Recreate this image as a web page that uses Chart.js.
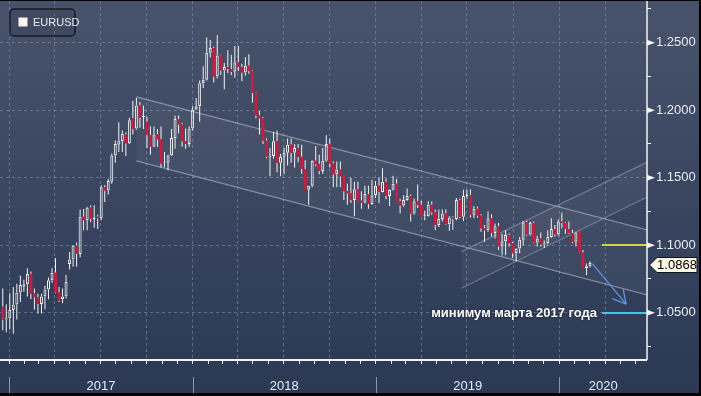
<!DOCTYPE html>
<html>
<head>
<meta charset="utf-8">
<script src="https://cdn.jsdelivr.net/npm/chart.js@4.4.1/dist/chart.umd.min.js"></script>
<style>
  html, body { margin: 0; padding: 0; background: #000; }
  #wrap { position: absolute; left: 0; top: 1px; width: 699px; height: 392px; }
</style>
</head>
<body>
<div id="wrap"><canvas id="myChart" width="699" height="392"></canvas></div>
<script>
// weekly EURUSD candles, first bar = week of 12 Dec 2016
var firstWeek = "2016-12-12";
var opens = [
  1.0545,1.0450,1.0458,1.0520,1.0560,1.0650,1.0693,1.0710,1.0787,1.0643,
  1.0614,1.0565,1.0620,1.0672,1.0740,1.0796,1.0650,1.0600,1.0620,1.0860,
  1.0895,1.0998,1.0935,1.1210,1.1185,1.1280,1.1195,1.1210,1.1200,1.1430,
  1.1405,1.1470,1.1665,1.1745,1.1770,1.1820,1.1755,1.1940,1.1865,1.2035,
  1.1950,1.1915,1.1815,1.1730,1.1820,1.1785,1.1605,1.1610,1.1665,1.1795,
  1.1935,1.1895,1.1770,1.1750,1.1865,1.2005,1.2030,1.2200,1.2225,1.2425,
  1.2460,1.2250,1.2405,1.2295,1.2320,1.2305,1.2285,1.2355,1.2320,1.2280,
  1.2330,1.2290,1.2130,1.1960,1.1940,1.1775,1.1655,1.1660,1.1770,1.1610,
  1.1655,1.1685,1.1745,1.1685,1.1720,1.1655,1.1565,1.1410,1.1440,1.1625,
  1.1600,1.1550,1.1625,1.1750,1.1605,1.1525,1.1560,1.1510,1.1400,1.1385,
  1.1335,1.1415,1.1330,1.1315,1.1380,1.1305,1.1370,1.1440,1.1395,1.1470,
  1.1365,1.1410,1.1455,1.1325,1.1295,1.1335,1.1365,1.1235,1.1325,1.1300,
  1.1215,1.1215,1.1300,1.1245,1.1150,1.1195,1.1235,1.1155,1.1205,1.1195,
  1.1335,1.1210,1.1365,1.1370,1.1225,1.1270,1.1220,1.1125,1.1110,1.1200,
  1.1090,1.1140,1.0990,1.1030,1.1075,1.1015,1.0940,1.0975,1.1040,1.1170,
  1.1080,1.1165,1.1020,1.1050,1.1005,1.1015,1.1060,1.1120,1.1080,1.1175,
  1.1165,1.1120,1.1090,1.1025,1.1095,1.0945,1.0830,1.0845
];
var highs = [
  1.0680,1.0560,1.0645,1.0690,1.0715,1.0775,1.0745,1.0829,1.0805,1.0680,
  1.0640,1.0640,1.0700,1.0760,1.0830,1.0906,1.0690,1.0680,1.0780,1.0950,
  1.1000,1.1020,1.1265,1.1268,1.1285,1.1296,1.1296,1.1225,1.1445,1.1445,
  1.1490,1.1680,1.1775,1.1910,1.1850,1.1835,1.1945,1.2070,1.2092,1.2060,
  1.2035,1.1950,1.1880,1.1880,1.1860,1.1880,1.1690,1.1670,1.1860,1.1960,
  1.1960,1.1905,1.1865,1.1880,1.2030,1.2090,1.2220,1.2325,1.2538,1.2520,
  1.2470,1.2555,1.2410,1.2350,1.2445,1.2410,1.2475,1.2475,1.2345,1.2395,
  1.2415,1.2295,1.2135,1.1995,1.1950,1.1790,1.1720,1.1840,1.1850,1.1675,
  1.1720,1.1790,1.1790,1.1750,1.1750,1.1745,1.1630,1.1440,1.1630,1.1735,
  1.1670,1.1720,1.1815,1.1790,1.1620,1.1620,1.1620,1.1515,1.1455,1.1500,
  1.1470,1.1470,1.1400,1.1440,1.1440,1.1485,1.1475,1.1500,1.1570,1.1495,
  1.1415,1.1515,1.1490,1.1345,1.1370,1.1420,1.1375,1.1345,1.1450,1.1330,
  1.1255,1.1325,1.1325,1.1265,1.1265,1.1265,1.1265,1.1215,1.1215,1.1350,
  1.1345,1.1410,1.1410,1.1415,1.1290,1.1285,1.1230,1.1150,1.1250,1.1230,
  1.1160,1.1165,1.1085,1.1110,1.1085,1.1025,1.0980,1.1060,1.1180,1.1180,
  1.1175,1.1175,1.1070,1.1095,1.1035,1.1110,1.1200,1.1150,1.1190,1.1240,
  1.1170,1.1175,1.1115,1.1100,1.1100,1.0965,1.0865,1.0880
];
var lows = [
  1.0370,1.0355,1.0375,1.0345,1.0450,1.0580,1.0656,1.0620,1.0600,1.0521,
  1.0494,1.0495,1.0525,1.0600,1.0720,1.0645,1.0580,1.0570,1.0605,1.0820,
  1.0840,1.0840,1.0910,1.1110,1.1110,1.1170,1.1130,1.1120,1.1185,1.1320,
  1.1375,1.1455,1.1610,1.1690,1.1690,1.1660,1.1750,1.1820,1.1855,1.1870,
  1.1860,1.1720,1.1670,1.1730,1.1730,1.1575,1.1575,1.1555,1.1660,1.1715,
  1.1830,1.1730,1.1715,1.1730,1.1850,1.2000,1.1915,1.2165,1.2220,1.2390,
  1.2205,1.2235,1.2260,1.2155,1.2275,1.2260,1.2240,1.2290,1.2215,1.2255,
  1.2270,1.2055,1.1940,1.1820,1.1750,1.1645,1.1510,1.1640,1.1540,1.1510,
  1.1525,1.1590,1.1610,1.1575,1.1615,1.1530,1.1410,1.1300,1.1430,1.1585,
  1.1525,1.1530,1.1620,1.1575,1.1430,1.1430,1.1430,1.1335,1.1300,1.1315,
  1.1215,1.1325,1.1270,1.1310,1.1270,1.1300,1.1350,1.1310,1.1390,1.1340,
  1.1290,1.1405,1.1325,1.1235,1.1285,1.1330,1.1175,1.1225,1.1275,1.1215,
  1.1185,1.1210,1.1225,1.1110,1.1135,1.1175,1.1150,1.1105,1.1115,1.1185,
  1.1200,1.1180,1.1345,1.1205,1.1200,1.1205,1.1100,1.1025,1.1100,1.1065,
  1.1050,1.0965,1.0925,1.0925,1.0990,1.0905,1.0880,1.0940,1.1000,1.1070,
  1.1070,1.1015,1.0990,1.0990,1.0980,1.1005,1.1055,1.1065,1.1070,1.1125,
  1.1085,1.1085,1.1015,1.0990,1.0940,1.0830,1.0778,1.0835
];
var closes = [
  1.0450,1.0458,1.0520,1.0560,1.0650,1.0705,1.0710,1.0787,1.0643,1.0614,
  1.0565,1.0620,1.0672,1.0740,1.0796,1.0650,1.0590,1.0620,1.0730,1.0895,
  1.0998,1.0935,1.1210,1.1185,1.1280,1.1195,1.1200,1.1200,1.1430,1.1405,
  1.1475,1.1665,1.1750,1.1775,1.1825,1.1755,1.1925,1.1860,1.2035,1.1945,
  1.1955,1.1815,1.1730,1.1820,1.1785,1.1605,1.1610,1.1665,1.1795,1.1935,
  1.1895,1.1770,1.1750,1.1865,1.2005,1.2030,1.2200,1.2225,1.2425,1.2460,
  1.2250,1.2405,1.2295,1.2320,1.2305,1.2285,1.2355,1.2320,1.2280,1.2330,
  1.2290,1.2130,1.1960,1.1940,1.1775,1.1655,1.1660,1.1770,1.1610,1.1655,
  1.1685,1.1745,1.1685,1.1720,1.1655,1.1565,1.1410,1.1440,1.1625,1.1600,
  1.1550,1.1625,1.1750,1.1605,1.1525,1.1560,1.1510,1.1400,1.1385,1.1335,
  1.1415,1.1330,1.1315,1.1380,1.1305,1.1370,1.1440,1.1395,1.1470,1.1365,
  1.1410,1.1455,1.1325,1.1295,1.1335,1.1365,1.1235,1.1325,1.1300,1.1215,
  1.1218,1.1300,1.1245,1.1150,1.1195,1.1235,1.1155,1.1205,1.1195,1.1335,
  1.1210,1.1365,1.1370,1.1225,1.1270,1.1220,1.1125,1.1110,1.1200,1.1090,
  1.1140,1.0990,1.1030,1.1075,1.1015,1.0940,1.0975,1.1040,1.1170,1.1080,
  1.1165,1.1020,1.1050,1.1005,1.1015,1.1060,1.1120,1.1080,1.1175,1.1165,
  1.1120,1.1090,1.1025,1.1095,1.0945,1.0830,1.0845,1.0868
];

var seriesName = "EURUSD";
var priceTicks = [1.025, 1.05, 1.075, 1.10, 1.125, 1.15, 1.175, 1.20, 1.225, 1.25, 1.275];
var years = [2017, 2018, 2019, 2020];
var lastPrice = 1.0868;
var levelPrices = [1.1000, 1.0500];
var levelColors = ["#d8d43e", "#3fc6e2"];
var levelFrom = "2020-03-26";
var noteText = "минимум марта 2017 года";
// [date, upper line, lower line]
var downChannel = [["2017-09-11", 1.2098, 1.1624], ["2020-06-24", 1.1113, 1.0631]];
var upChannel = [["2019-06-20", 1.0952, 1.0681], ["2020-06-24", 1.1616, 1.1357]];
var arrowPath = [["2020-03-07", 1.0862], ["2020-05-13", 1.0564]];

var grafico = (function () {
  "use strict";
  var DAY = 86400000;
  var ORIGIN = Date.UTC(2017, 0, 1);
  var X_MIN = -18.5, X_MAX = 1269.5;
  var Y_MIN = 1.014963, Y_MAX = 1.280889;
  var WHITE = "#f3f3f3", RED = "#c41e40";
  var GRID = "rgba(125,150,185,0.55)";

  function dayOf(s) {
    var p = s.split("-");
    return (Date.UTC(+p[0], +p[1] - 1, +p[2]) - ORIGIN) / DAY;
  }
  function isMajor(v) { return Math.round(v * 1000) % 50 === 0; }

  var monthTicks = [];
  for (var yr = 2016; yr <= 2020; yr++) {
    for (var m = 0; m < 12; m++) {
      var d = (Date.UTC(yr, m, 1) - ORIGIN) / DAY;
      if (d >= X_MIN && d <= X_MAX) monthTicks.push({ value: d, quarter: m % 3 === 0 });
    }
  }

  var bodies = [], wickHigh = [], wickLow = [], bodyFill = [], bodyLine = [], bodyBorder = [];
  var w0 = dayOf(firstWeek);
  for (var i = 0; i < opens.length; i++) {
    var x = w0 + 7 * (i + 1);
    var top = Math.max(opens[i], closes[i]), bot = Math.min(opens[i], closes[i]);
    var up = closes[i] >= opens[i];
    bodies.push({ x: x, y: [opens[i], closes[i]] });
    wickHigh.push({ x: x, y: [top, highs[i]] });
    wickLow.push({ x: x, y: [lows[i], bot] });
    bodyFill.push(up ? "rgba(0,0,0,0)" : RED);
    bodyLine.push(up ? WHITE : RED);
    bodyBorder.push(up ? 1 : 0);
  }

  function line(c, x0, y0, x1, y1) {
    c.beginPath(); c.moveTo(x0, y0); c.lineTo(x1, y1); c.stroke();
  }

  var decor = {
    id: "decor",
    beforeDraw: function (chart) {
      var c = chart.ctx;
      var g = c.createLinearGradient(0, 0, 0, chart.height);
      g.addColorStop(0, "#48536b");
      g.addColorStop(0.9, "#2e3b57");
      g.addColorStop(1, "#2c3955");
      c.save();
      c.fillStyle = g;
      c.fillRect(0, 0, chart.width, chart.height);
      c.restore();
    },
    beforeDatasetsDraw: function (chart) {
      var c = chart.ctx, a = chart.chartArea, xs = chart.scales.x, ys = chart.scales.y;
      c.save();
      c.beginPath(); c.rect(a.left, a.top, a.right - a.left, a.bottom - a.top); c.clip();
      [downChannel, upChannel].forEach(function (ch, k) {
        var x0 = xs.getPixelForValue(dayOf(ch[0][0])), x1 = xs.getPixelForValue(dayOf(ch[1][0]));
        var u0 = ys.getPixelForValue(ch[0][1]), l0 = ys.getPixelForValue(ch[0][2]);
        var u1 = ys.getPixelForValue(ch[1][1]), l1 = ys.getPixelForValue(ch[1][2]);
        c.fillStyle = "rgba(255,255,255,0.045)";
        c.beginPath(); c.moveTo(x0, u0); c.lineTo(x1, u1); c.lineTo(x1, l1); c.lineTo(x0, l0); c.closePath(); c.fill();
        c.strokeStyle = k === 0 ? "rgba(190,198,214,0.55)" : "rgba(160,166,200,0.5)";
        c.lineWidth = 1.3;
        line(c, x0, u0, x1, u1);
        line(c, x0, l0, x1, l1);
      });
      c.restore();
    },
    afterDraw: function (chart) {
      var c = chart.ctx, a = chart.chartArea, xs = chart.scales.x, ys = chart.scales.y;
      c.save();

      // levels, drawn over the dashed grid line of the same price
      levelPrices.forEach(function (p, k) {
        var y = Math.round(ys.getPixelForValue(p));
        c.strokeStyle = levelColors[k];
        c.lineWidth = 2;
        line(c, xs.getPixelForValue(dayOf(levelFrom)), y, a.right, y);
      });

      // note
      c.font = "bold 13px 'Liberation Sans', Arial, sans-serif";
      c.textAlign = "right";
      c.textBaseline = "alphabetic";
      c.shadowColor = "rgba(0,0,0,0.6)";
      c.shadowBlur = 2;
      c.fillStyle = "#ffffff";
      c.fillText(noteText, xs.getPixelForValue(dayOf(levelFrom)) - 5, ys.getPixelForValue(levelPrices[1]) + 4.5);
      c.shadowBlur = 0;
      c.shadowColor = "transparent";

      // arrow
      var ax0 = xs.getPixelForValue(dayOf(arrowPath[0][0])), ay0 = ys.getPixelForValue(arrowPath[0][1]);
      var ax1 = xs.getPixelForValue(dayOf(arrowPath[1][0])), ay1 = ys.getPixelForValue(arrowPath[1][1]);
      var ang = Math.atan2(ay1 - ay0, ax1 - ax0);
      c.strokeStyle = "#6394dc";
      c.lineWidth = 1.3;
      line(c, ax0, ay0, ax1, ay1);
      line(c, ax1, ay1, ax1 - 15 * Math.cos(ang - 0.5), ay1 - 15 * Math.sin(ang - 0.5));
      line(c, ax1, ay1, ax1 - 15 * Math.cos(ang + 0.5), ay1 - 15 * Math.sin(ang + 0.5));

      // axis lines
      c.strokeStyle = WHITE;
      c.lineWidth = 2;
      line(c, a.left, a.bottom, a.right, a.bottom);
      c.lineWidth = 1.5;
      line(c, a.right, 0, a.right, a.bottom);

      // major tick markers
      c.fillStyle = WHITE;
      priceTicks.forEach(function (v) {
        if (!isMajor(v)) return;
        var y = ys.getPixelForValue(v);
        c.beginPath(); c.moveTo(a.right, y - 3); c.lineTo(a.right + 8, y); c.lineTo(a.right, y + 3); c.closePath(); c.fill();
      });

      // years
      c.font = "13px 'Liberation Sans', Arial, sans-serif";
      c.textAlign = "center";
      c.textBaseline = "middle";
      years.forEach(function (y) {
        var x0 = xs.getPixelForValue(dayOf(y + "-01-01"));
        var x1 = Math.min(xs.getPixelForValue(dayOf((y + 1) + "-01-01")), a.right);
        c.strokeStyle = "#8d96a8";
        c.lineWidth = 1;
        line(c, Math.round(x0) + 0.5, a.bottom + 17, Math.round(x0) + 0.5, chart.height);
        c.fillStyle = "#e6eaf0";
        c.fillText(String(y), (x0 + x1) / 2, a.bottom + 26);
      });

      // last price tag
      var py = ys.getPixelForValue(lastPrice) + 2;
      c.fillStyle = "#fdf5e6";
      c.strokeStyle = "#111111";
      c.lineWidth = 1;
      c.beginPath();
      c.moveTo(a.right + 2.5, py);
      c.lineTo(a.right + 10, py - 7.5);
      c.lineTo(a.right + 50, py - 7.5);
      c.lineTo(a.right + 50, py + 7.5);
      c.lineTo(a.right + 10, py + 7.5);
      c.closePath();
      c.fill(); c.stroke();
      c.fillStyle = "#000000";
      c.fillText(lastPrice.toFixed(4), a.right + 30, py + 0.5);

      // legend box
      var bx = 10, by = 8, bw = 65, bh = 27, r = 4;
      c.beginPath();
      c.moveTo(bx + r, by);
      c.arcTo(bx + bw, by, bx + bw, by + bh, r);
      c.arcTo(bx + bw, by + bh, bx, by + bh, r);
      c.arcTo(bx, by + bh, bx, by, r);
      c.arcTo(bx, by, bx + bw, by, r);
      c.closePath();
      c.fillStyle = "rgba(20,25,40,0.12)";
      c.fill();
      c.strokeStyle = "#161b27";
      c.lineWidth = 1.5;
      c.stroke();
      c.fillStyle = "#fff4f0";
      c.fillRect(18.5, 16.5, 9, 9);
      c.font = "11px 'Liberation Sans Narrow', 'Liberation Sans', Arial, sans-serif";
      c.textAlign = "left";
      c.fillStyle = "#e8ecf2";
      c.fillText(seriesName, 33, 21.5);

      c.restore();
    }
  };

  return {
    draw: function () {
      var ctx = document.getElementById("myChart");
      return new Chart(ctx, {
        type: "bar",
        data: {
          datasets: [{
            data: bodies,
            backgroundColor: bodyFill,
            borderColor: bodyLine,
            borderWidth: bodyBorder,
            borderSkipped: false,
            barThickness: 3,
            maxBarThickness: 3,
            minBarLength: 1,
            inflateAmount: 0
          }, {
            data: wickHigh,
            backgroundColor: WHITE,
            borderWidth: 0,
            barThickness: 1,
            maxBarThickness: 1,
            inflateAmount: 0
          }, {
            data: wickLow,
            backgroundColor: WHITE,
            borderWidth: 0,
            barThickness: 1,
            maxBarThickness: 1,
            inflateAmount: 0
          }]
        },
        options: {
          responsive: false,
          animation: false,
          devicePixelRatio: 1,
          events: [],
          layout: { padding: 0 },
          plugins: { legend: { display: false }, tooltip: { enabled: false } },
          scales: {
            x: {
              type: "linear",
              min: X_MIN,
              max: X_MAX,
              stacked: true,
              offset: false,
              afterBuildTicks: function (s) {
                s.ticks = monthTicks.map(function (t) { return { value: t.value }; });
              },
              afterFit: function (s) {
                s.height = 33;
                s.paddingLeft = 0; s.paddingRight = 0; s.paddingTop = 0; s.paddingBottom = 0;
              },
              ticks: { display: false, autoSkip: false },
              border: { display: false, dash: [3, 3] },
              grid: {
                offset: false,
                color: function (c) {
                  return (monthTicks[c.index] && monthTicks[c.index].quarter) ? GRID : "rgba(0,0,0,0)";
                },
                lineWidth: 1,
                drawTicks: true,
                tickLength: 4,
                tickColor: WHITE,
                tickWidth: 1
              }
            },
            y: {
              type: "linear",
              position: "right",
              min: Y_MIN,
              max: Y_MAX,
              stacked: false,
              beginAtZero: false,
              afterBuildTicks: function (s) {
                s.ticks = priceTicks.map(function (v) { return { value: v }; });
              },
              afterFit: function (s) {
                s.width = 52;
                s.paddingLeft = 0; s.paddingRight = 0; s.paddingTop = 0; s.paddingBottom = 0;
              },
              ticks: {
                autoSkip: false,
                padding: 5,
                color: "#e8ecf2",
                font: { family: "'Liberation Sans', Arial, sans-serif", size: 13 },
                callback: function (v) { return isMajor(v) ? Number(v).toFixed(4) : ""; }
              },
              border: { display: false, dash: [3, 3] },
              grid: {
                color: function (c) {
                  return (c.tick && isMajor(c.tick.value)) ? GRID : "rgba(0,0,0,0)";
                },
                lineWidth: 1,
                drawTicks: true,
                tickLength: 4,
                tickColor: WHITE,
                tickWidth: 1
              }
            }
          }
        },
        plugins: [decor]
      });
    }
  };
}());

grafico.draw();
</script>
</body>
</html>
